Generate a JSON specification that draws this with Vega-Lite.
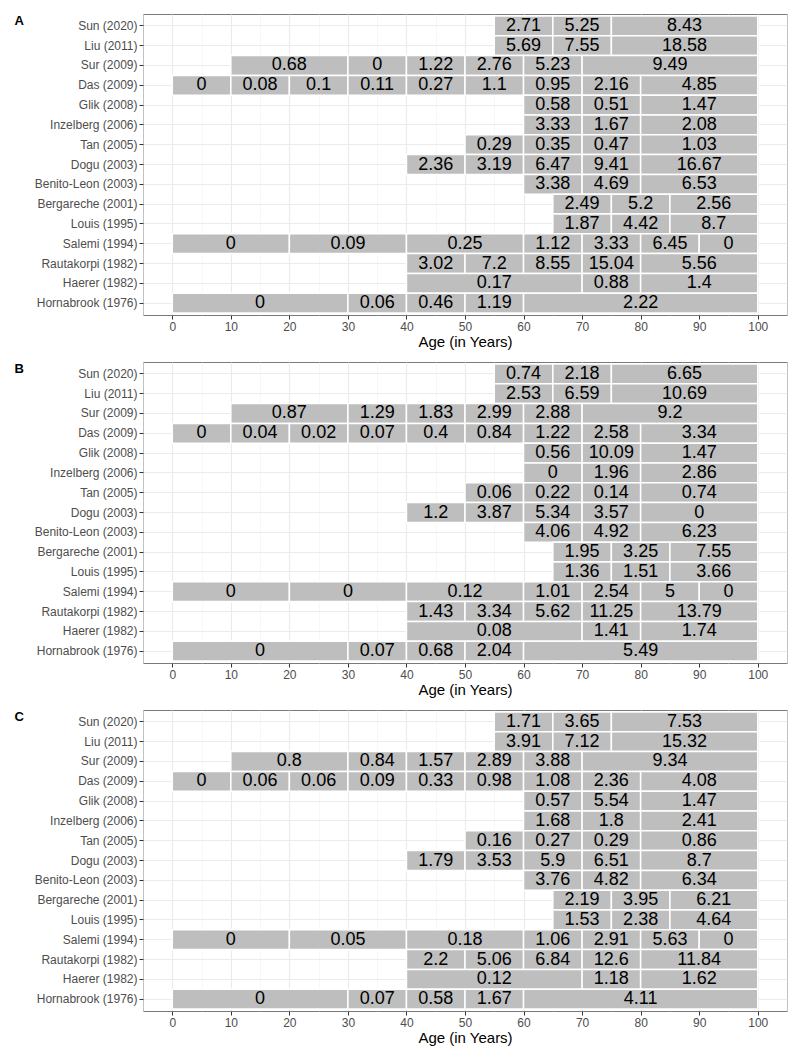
{
  "$schema": "https://vega.github.io/schema/vega-lite/v6.json",
  "padding": {"left": 13, "top": 13, "right": 14, "bottom": 10},
  "autosize": {"type": "pad"},
  "background": "white",
  "config": {
    "font": "Liberation Sans",
    "view": {"stroke": "#7a7a7a", "strokeWidth": 1}
  },
  "data": {"values": [
    {"study": "Sun (2020)", "start": 55, "end": 65, "A": 2.71, "B": 0.74, "C": 1.71},
    {"study": "Sun (2020)", "start": 65, "end": 75, "A": 5.25, "B": 2.18, "C": 3.65},
    {"study": "Sun (2020)", "start": 75, "end": 100, "A": 8.43, "B": 6.65, "C": 7.53},
    {"study": "Liu (2011)", "start": 55, "end": 65, "A": 5.69, "B": 2.53, "C": 3.91},
    {"study": "Liu (2011)", "start": 65, "end": 75, "A": 7.55, "B": 6.59, "C": 7.12},
    {"study": "Liu (2011)", "start": 75, "end": 100, "A": 18.58, "B": 10.69, "C": 15.32},
    {"study": "Sur (2009)", "start": 10, "end": 30, "A": 0.68, "B": 0.87, "C": 0.8},
    {"study": "Sur (2009)", "start": 30, "end": 40, "A": 0, "B": 1.29, "C": 0.84},
    {"study": "Sur (2009)", "start": 40, "end": 50, "A": 1.22, "B": 1.83, "C": 1.57},
    {"study": "Sur (2009)", "start": 50, "end": 60, "A": 2.76, "B": 2.99, "C": 2.89},
    {"study": "Sur (2009)", "start": 60, "end": 70, "A": 5.23, "B": 2.88, "C": 3.88},
    {"study": "Sur (2009)", "start": 70, "end": 100, "A": 9.49, "B": 9.2, "C": 9.34},
    {"study": "Das (2009)", "start": 0, "end": 10, "A": 0, "B": 0, "C": 0},
    {"study": "Das (2009)", "start": 10, "end": 20, "A": 0.08, "B": 0.04, "C": 0.06},
    {"study": "Das (2009)", "start": 20, "end": 30, "A": 0.1, "B": 0.02, "C": 0.06},
    {"study": "Das (2009)", "start": 30, "end": 40, "A": 0.11, "B": 0.07, "C": 0.09},
    {"study": "Das (2009)", "start": 40, "end": 50, "A": 0.27, "B": 0.4, "C": 0.33},
    {"study": "Das (2009)", "start": 50, "end": 60, "A": 1.1, "B": 0.84, "C": 0.98},
    {"study": "Das (2009)", "start": 60, "end": 70, "A": 0.95, "B": 1.22, "C": 1.08},
    {"study": "Das (2009)", "start": 70, "end": 80, "A": 2.16, "B": 2.58, "C": 2.36},
    {"study": "Das (2009)", "start": 80, "end": 100, "A": 4.85, "B": 3.34, "C": 4.08},
    {"study": "Glik (2008)", "start": 60, "end": 70, "A": 0.58, "B": 0.56, "C": 0.57},
    {"study": "Glik (2008)", "start": 70, "end": 80, "A": 0.51, "B": 10.09, "C": 5.54},
    {"study": "Glik (2008)", "start": 80, "end": 100, "A": 1.47, "B": 1.47, "C": 1.47},
    {"study": "Inzelberg (2006)", "start": 60, "end": 70, "A": 3.33, "B": 0, "C": 1.68},
    {"study": "Inzelberg (2006)", "start": 70, "end": 80, "A": 1.67, "B": 1.96, "C": 1.8},
    {"study": "Inzelberg (2006)", "start": 80, "end": 100, "A": 2.08, "B": 2.86, "C": 2.41},
    {"study": "Tan (2005)", "start": 50, "end": 60, "A": 0.29, "B": 0.06, "C": 0.16},
    {"study": "Tan (2005)", "start": 60, "end": 70, "A": 0.35, "B": 0.22, "C": 0.27},
    {"study": "Tan (2005)", "start": 70, "end": 80, "A": 0.47, "B": 0.14, "C": 0.29},
    {"study": "Tan (2005)", "start": 80, "end": 100, "A": 1.03, "B": 0.74, "C": 0.86},
    {"study": "Dogu (2003)", "start": 40, "end": 50, "A": 2.36, "B": 1.2, "C": 1.79},
    {"study": "Dogu (2003)", "start": 50, "end": 60, "A": 3.19, "B": 3.87, "C": 3.53},
    {"study": "Dogu (2003)", "start": 60, "end": 70, "A": 6.47, "B": 5.34, "C": 5.9},
    {"study": "Dogu (2003)", "start": 70, "end": 80, "A": 9.41, "B": 3.57, "C": 6.51},
    {"study": "Dogu (2003)", "start": 80, "end": 100, "A": 16.67, "B": 0, "C": 8.7},
    {"study": "Benito-Leon (2003)", "start": 60, "end": 70, "A": 3.38, "B": 4.06, "C": 3.76},
    {"study": "Benito-Leon (2003)", "start": 70, "end": 80, "A": 4.69, "B": 4.92, "C": 4.82},
    {"study": "Benito-Leon (2003)", "start": 80, "end": 100, "A": 6.53, "B": 6.23, "C": 6.34},
    {"study": "Bergareche (2001)", "start": 65, "end": 75, "A": 2.49, "B": 1.95, "C": 2.19},
    {"study": "Bergareche (2001)", "start": 75, "end": 85, "A": 5.2, "B": 3.25, "C": 3.95},
    {"study": "Bergareche (2001)", "start": 85, "end": 100, "A": 2.56, "B": 7.55, "C": 6.21},
    {"study": "Louis (1995)", "start": 65, "end": 75, "A": 1.87, "B": 1.36, "C": 1.53},
    {"study": "Louis (1995)", "start": 75, "end": 85, "A": 4.42, "B": 1.51, "C": 2.38},
    {"study": "Louis (1995)", "start": 85, "end": 100, "A": 8.7, "B": 3.66, "C": 4.64},
    {"study": "Salemi (1994)", "start": 0, "end": 20, "A": 0, "B": 0, "C": 0},
    {"study": "Salemi (1994)", "start": 20, "end": 40, "A": 0.09, "B": 0, "C": 0.05},
    {"study": "Salemi (1994)", "start": 40, "end": 60, "A": 0.25, "B": 0.12, "C": 0.18},
    {"study": "Salemi (1994)", "start": 60, "end": 70, "A": 1.12, "B": 1.01, "C": 1.06},
    {"study": "Salemi (1994)", "start": 70, "end": 80, "A": 3.33, "B": 2.54, "C": 2.91},
    {"study": "Salemi (1994)", "start": 80, "end": 90, "A": 6.45, "B": 5, "C": 5.63},
    {"study": "Salemi (1994)", "start": 90, "end": 100, "A": 0, "B": 0, "C": 0},
    {"study": "Rautakorpi (1982)", "start": 40, "end": 50, "A": 3.02, "B": 1.43, "C": 2.2},
    {"study": "Rautakorpi (1982)", "start": 50, "end": 60, "A": 7.2, "B": 3.34, "C": 5.06},
    {"study": "Rautakorpi (1982)", "start": 60, "end": 70, "A": 8.55, "B": 5.62, "C": 6.84},
    {"study": "Rautakorpi (1982)", "start": 70, "end": 80, "A": 15.04, "B": 11.25, "C": 12.6},
    {"study": "Rautakorpi (1982)", "start": 80, "end": 100, "A": 5.56, "B": 13.79, "C": 11.84},
    {"study": "Haerer (1982)", "start": 40, "end": 70, "A": 0.17, "B": 0.08, "C": 0.12},
    {"study": "Haerer (1982)", "start": 70, "end": 80, "A": 0.88, "B": 1.41, "C": 1.18},
    {"study": "Haerer (1982)", "start": 80, "end": 100, "A": 1.4, "B": 1.74, "C": 1.62},
    {"study": "Hornabrook (1976)", "start": 0, "end": 30, "A": 0, "B": 0, "C": 0},
    {"study": "Hornabrook (1976)", "start": 30, "end": 40, "A": 0.06, "B": 0.07, "C": 0.07},
    {"study": "Hornabrook (1976)", "start": 40, "end": 50, "A": 0.46, "B": 0.68, "C": 0.58},
    {"study": "Hornabrook (1976)", "start": 50, "end": 60, "A": 1.19, "B": 2.04, "C": 1.67},
    {"study": "Hornabrook (1976)", "start": 60, "end": 100, "A": 2.22, "B": 5.49, "C": 4.11}
  ]},
  "transform": [{"calculate": "(datum.start + datum.end) / 2", "as": "mid"}],
  "spacing": 47,
  "bounds": "flush",
  "vconcat": [
    {
      "width": 644, "height": 301,
      "layer": [
        {
          "mark": {"type": "rect", "fill": "#bebebe", "stroke": "white", "strokeWidth": 1.5},
          "encoding": {
            "x": {"field": "start", "type": "quantitative", "scale": {"domain": [-5, 105], "nice": false, "zero": false},
              "axis": {"zindex": 0, "values": [0, 10, 20, 30, 40, 50, 60, 70, 80, 90, 100], "grid": true, "gridColor": "#ebebeb", "gridWidth": 1.1, "domain": false, "tickColor": "#333333", "tickSize": 4, "labelFontSize": 12, "labelColor": "#4d4d4d", "labelPadding": 2, "labelFlush": false, "title": "Age (in Years)", "titleFontSize": 15, "titleFontWeight": "normal", "titleColor": "black", "titlePadding": 2}},
            "x2": {"field": "end"},
            "y": {"field": "study", "type": "nominal", "sort": ["Sun (2020)", "Liu (2011)", "Sur (2009)", "Das (2009)", "Glik (2008)", "Inzelberg (2006)", "Tan (2005)", "Dogu (2003)", "Benito-Leon (2003)", "Bergareche (2001)", "Louis (1995)", "Salemi (1994)", "Rautakorpi (1982)", "Haerer (1982)", "Hornabrook (1976)"],
              "scale": {"type": "band", "paddingInner": 0, "paddingOuter": 0.1},
              "axis": {"zindex": 0, "title": "A", "titleAngle": 0, "titleX": -129, "titleY": 10, "titleAlign": "left", "titleBaseline": "alphabetic", "titleFontSize": 13, "titleFontWeight": "bold", "titleColor": "black", "domain": false, "grid": true, "gridColor": "#ebebeb", "gridWidth": 1.1, "bandPosition": 0.5, "tickColor": "#333333", "tickSize": 4, "labelFontSize": 12, "labelColor": "#4d4d4d", "labelPadding": 2}}
          }
        },
        {
          "mark": {"type": "text", "fontSize": 18, "baseline": "middle", "align": "center", "color": "black"},
          "encoding": {
            "x": {"field": "mid", "type": "quantitative", "scale": {"domain": [-5, 105], "nice": false, "zero": false},
              "axis": {"zindex": 0, "orient": "bottom", "values": [-5, 5, 15, 25, 35, 45, 55, 65, 75, 85, 95, 105], "grid": true, "gridColor": "#f2f2f2", "gridWidth": 0.6, "labels": false, "ticks": false, "domain": false, "title": null}},
            "y": {"field": "study", "type": "nominal", "sort": ["Sun (2020)", "Liu (2011)", "Sur (2009)", "Das (2009)", "Glik (2008)", "Inzelberg (2006)", "Tan (2005)", "Dogu (2003)", "Benito-Leon (2003)", "Bergareche (2001)", "Louis (1995)", "Salemi (1994)", "Rautakorpi (1982)", "Haerer (1982)", "Hornabrook (1976)"],
              "scale": {"type": "band", "paddingInner": 0, "paddingOuter": 0.1}},
            "text": {"field": "A", "type": "nominal"}
          }
        }
      ],
      "resolve": {"axis": {"x": "independent"}}
    },
    {
      "width": 644, "height": 301,
      "layer": [
        {
          "mark": {"type": "rect", "fill": "#bebebe", "stroke": "white", "strokeWidth": 1.5},
          "encoding": {
            "x": {"field": "start", "type": "quantitative", "scale": {"domain": [-5, 105], "nice": false, "zero": false},
              "axis": {"zindex": 0, "values": [0, 10, 20, 30, 40, 50, 60, 70, 80, 90, 100], "grid": true, "gridColor": "#ebebeb", "gridWidth": 1.1, "domain": false, "tickColor": "#333333", "tickSize": 4, "labelFontSize": 12, "labelColor": "#4d4d4d", "labelPadding": 2, "labelFlush": false, "title": "Age (in Years)", "titleFontSize": 15, "titleFontWeight": "normal", "titleColor": "black", "titlePadding": 2}},
            "x2": {"field": "end"},
            "y": {"field": "study", "type": "nominal", "sort": ["Sun (2020)", "Liu (2011)", "Sur (2009)", "Das (2009)", "Glik (2008)", "Inzelberg (2006)", "Tan (2005)", "Dogu (2003)", "Benito-Leon (2003)", "Bergareche (2001)", "Louis (1995)", "Salemi (1994)", "Rautakorpi (1982)", "Haerer (1982)", "Hornabrook (1976)"],
              "scale": {"type": "band", "paddingInner": 0, "paddingOuter": 0.1},
              "axis": {"zindex": 0, "title": "B", "titleAngle": 0, "titleX": -129, "titleY": 10, "titleAlign": "left", "titleBaseline": "alphabetic", "titleFontSize": 13, "titleFontWeight": "bold", "titleColor": "black", "domain": false, "grid": true, "gridColor": "#ebebeb", "gridWidth": 1.1, "bandPosition": 0.5, "tickColor": "#333333", "tickSize": 4, "labelFontSize": 12, "labelColor": "#4d4d4d", "labelPadding": 2}}
          }
        },
        {
          "mark": {"type": "text", "fontSize": 18, "baseline": "middle", "align": "center", "color": "black"},
          "encoding": {
            "x": {"field": "mid", "type": "quantitative", "scale": {"domain": [-5, 105], "nice": false, "zero": false},
              "axis": {"zindex": 0, "orient": "bottom", "values": [-5, 5, 15, 25, 35, 45, 55, 65, 75, 85, 95, 105], "grid": true, "gridColor": "#f2f2f2", "gridWidth": 0.6, "labels": false, "ticks": false, "domain": false, "title": null}},
            "y": {"field": "study", "type": "nominal", "sort": ["Sun (2020)", "Liu (2011)", "Sur (2009)", "Das (2009)", "Glik (2008)", "Inzelberg (2006)", "Tan (2005)", "Dogu (2003)", "Benito-Leon (2003)", "Bergareche (2001)", "Louis (1995)", "Salemi (1994)", "Rautakorpi (1982)", "Haerer (1982)", "Hornabrook (1976)"],
              "scale": {"type": "band", "paddingInner": 0, "paddingOuter": 0.1}},
            "text": {"field": "B", "type": "nominal"}
          }
        }
      ],
      "resolve": {"axis": {"x": "independent"}}
    },
    {
      "width": 644, "height": 301,
      "layer": [
        {
          "mark": {"type": "rect", "fill": "#bebebe", "stroke": "white", "strokeWidth": 1.5},
          "encoding": {
            "x": {"field": "start", "type": "quantitative", "scale": {"domain": [-5, 105], "nice": false, "zero": false},
              "axis": {"zindex": 0, "values": [0, 10, 20, 30, 40, 50, 60, 70, 80, 90, 100], "grid": true, "gridColor": "#ebebeb", "gridWidth": 1.1, "domain": false, "tickColor": "#333333", "tickSize": 4, "labelFontSize": 12, "labelColor": "#4d4d4d", "labelPadding": 2, "labelFlush": false, "title": "Age (in Years)", "titleFontSize": 15, "titleFontWeight": "normal", "titleColor": "black", "titlePadding": 2}},
            "x2": {"field": "end"},
            "y": {"field": "study", "type": "nominal", "sort": ["Sun (2020)", "Liu (2011)", "Sur (2009)", "Das (2009)", "Glik (2008)", "Inzelberg (2006)", "Tan (2005)", "Dogu (2003)", "Benito-Leon (2003)", "Bergareche (2001)", "Louis (1995)", "Salemi (1994)", "Rautakorpi (1982)", "Haerer (1982)", "Hornabrook (1976)"],
              "scale": {"type": "band", "paddingInner": 0, "paddingOuter": 0.1},
              "axis": {"zindex": 0, "title": "C", "titleAngle": 0, "titleX": -129, "titleY": 10, "titleAlign": "left", "titleBaseline": "alphabetic", "titleFontSize": 13, "titleFontWeight": "bold", "titleColor": "black", "domain": false, "grid": true, "gridColor": "#ebebeb", "gridWidth": 1.1, "bandPosition": 0.5, "tickColor": "#333333", "tickSize": 4, "labelFontSize": 12, "labelColor": "#4d4d4d", "labelPadding": 2}}
          }
        },
        {
          "mark": {"type": "text", "fontSize": 18, "baseline": "middle", "align": "center", "color": "black"},
          "encoding": {
            "x": {"field": "mid", "type": "quantitative", "scale": {"domain": [-5, 105], "nice": false, "zero": false},
              "axis": {"zindex": 0, "orient": "bottom", "values": [-5, 5, 15, 25, 35, 45, 55, 65, 75, 85, 95, 105], "grid": true, "gridColor": "#f2f2f2", "gridWidth": 0.6, "labels": false, "ticks": false, "domain": false, "title": null}},
            "y": {"field": "study", "type": "nominal", "sort": ["Sun (2020)", "Liu (2011)", "Sur (2009)", "Das (2009)", "Glik (2008)", "Inzelberg (2006)", "Tan (2005)", "Dogu (2003)", "Benito-Leon (2003)", "Bergareche (2001)", "Louis (1995)", "Salemi (1994)", "Rautakorpi (1982)", "Haerer (1982)", "Hornabrook (1976)"],
              "scale": {"type": "band", "paddingInner": 0, "paddingOuter": 0.1}},
            "text": {"field": "C", "type": "nominal"}
          }
        }
      ],
      "resolve": {"axis": {"x": "independent"}}
    }
  ]
}
